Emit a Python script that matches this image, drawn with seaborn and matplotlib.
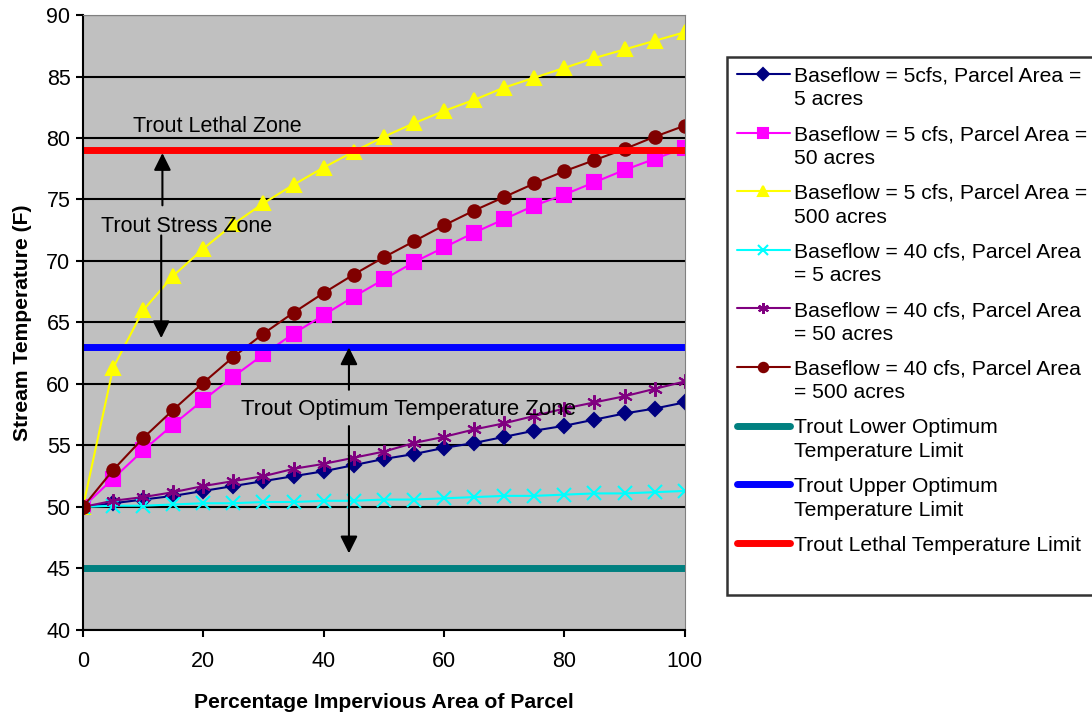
import numpy as np
import pandas as pd
import seaborn as sns
import matplotlib.pyplot as plt
from matplotlib.lines import Line2D

sns.set_style("white")
plt.rcParams['font.family'] = ['Liberation Sans', 'DejaVu Sans']
plt.rcParams.update({"text.color": "black", "axes.labelcolor": "black",
                     "xtick.color": "black", "ytick.color": "black"})

# percentage impervious area
pct = [0, 5, 10, 15, 20, 25, 30, 35, 40, 45, 50, 55, 60, 65, 70, 75, 80, 85, 90, 95, 100]

bf5_a5 = [50, 50.3, 50.6, 50.9, 51.3, 51.7, 52.1, 52.5, 52.9, 53.4, 53.9, 54.3, 54.8, 55.2, 55.7,
          56.2, 56.6, 57.1, 57.6, 58.0, 58.5]
bf5_a50 = [50, 52.3, 54.6, 56.7, 58.7, 60.6, 62.4, 64.1, 65.6, 67.1, 68.5, 69.9, 71.1, 72.3, 73.4,
           74.5, 75.4, 76.4, 77.4, 78.3, 79.2]
bf5_a500 = [50, 61.3, 66.0, 68.8, 71.0, 73.0, 74.7, 76.2, 77.6, 78.9, 80.1, 81.2, 82.2, 83.1, 84.1,
            84.9, 85.7, 86.5, 87.2, 87.9, 88.6]
bf40_a5 = [50, 50.1, 50.1, 50.2, 50.3, 50.3, 50.4, 50.4, 50.5, 50.5, 50.6, 50.6, 50.7, 50.8, 50.9,
           50.9, 51.0, 51.1, 51.1, 51.2, 51.3]
bf40_a50 = [50, 50.5, 50.8, 51.2, 51.7, 52.1, 52.5, 53.1, 53.5, 54.0, 54.5, 55.2, 55.7, 56.3, 56.8,
            57.4, 58.0, 58.5, 59.0, 59.6, 60.2]
bf40_a500 = [50, 53.0, 55.6, 57.9, 60.1, 62.2, 64.1, 65.8, 67.4, 68.9, 70.3, 71.6, 72.9, 74.1, 75.2,
             76.3, 77.3, 78.2, 79.1, 80.1, 81.0]

series_labels = ["Baseflow = 5cfs, Parcel Area =\n5 acres",
                 "Baseflow = 5 cfs, Parcel Area =\n50 acres",
                 "Baseflow = 5 cfs, Parcel Area =\n500 acres",
                 "Baseflow = 40 cfs, Parcel Area\n= 5 acres",
                 "Baseflow = 40 cfs, Parcel Area\n= 50 acres",
                 "Baseflow = 40 cfs, Parcel Area\n= 500 acres"]
series_colors = ["#000080", "#FF00FF", "#FFFF00", "#00FFFF", "#800080", "#800000"]
series_markers = ["D", "s", "^", "x", (6, 2, 0), "o"]
marker_sizes = [7.5, 9.5, 9.5, 9.5, 10.5, 9]

limit_labels = ["Trout Lower Optimum\nTemperature Limit",
                "Trout Upper Optimum\nTemperature Limit",
                "Trout Lethal Temperature Limit"]
limit_values = [45, 63, 79]
limit_colors = ["#008080", "#0000FF", "#FF0000"]

fig = plt.figure(figsize=(10.92, 7.15), dpi=100)
ax = fig.add_axes([0.076, 0.119, 0.551, 0.860])
ax.set_facecolor("#C0C0C0")

series = [bf5_a5, bf5_a50, bf5_a500, bf40_a5, bf40_a50, bf40_a500]
for vals, lab, col, mk, ms in zip(series, series_labels, series_colors, series_markers, marker_sizes):
    sns.lineplot(x=pct, y=vals, ax=ax, color=col, marker=mk, markersize=ms,
                 markeredgecolor=col, markeredgewidth=1.5, linewidth=1.5, label=lab)

for v, lab, col in zip(limit_values, limit_labels, limit_colors):
    sns.lineplot(x=[pct[0], pct[-1]], y=[v, v], ax=ax, color=col, linewidth=5,
                 solid_capstyle="round", label=lab)

ax.set_xlim(0, 100)
ax.set_ylim(40, 90)
ax.set_xticks(range(0, 101, 20))
ax.set_yticks(range(40, 91, 5))
ax.yaxis.grid(True, color="black", linewidth=1.5)
ax.set_axisbelow(True)
for s in ["top", "right"]:
    ax.spines[s].set_color("#808080")
for s in ["left", "bottom"]:
    ax.spines[s].set_color("black")
    ax.spines[s].set_linewidth(1.5)
ax.tick_params(axis="both", labelsize=15.5, length=5, width=1.5, direction="out",
               bottom=True, left=True)
ax.tick_params(axis="x", pad=10)
ax.tick_params(axis="y", pad=4)
ax.set_xlabel("Percentage Impervious Area of Parcel", fontsize=15.2, fontweight="bold", labelpad=15)
ax.set_ylabel("Stream Temperature (F)", fontsize=15.2, fontweight="bold", labelpad=10)

# zone annotations
ax.text(8.3, 80.9, "Trout Lethal Zone", fontsize=15.5, va="center")
ax.text(3, 72.8, "Trout Stress Zone", fontsize=15.5, va="center")
ax.text(26.2, 57.9, "Trout Optimum Temperature Zone", fontsize=16, va="center")
arrow = dict(arrowstyle="-|>", color="black", lw=1.5, mutation_scale=26)
ax.annotate("", xy=(13.2, 79.0), xytext=(13.2, 74.3), arrowprops=arrow)
ax.annotate("", xy=(13.0, 63.5), xytext=(13.0, 72.3), arrowprops=arrow)
ax.annotate("", xy=(44.2, 63.2), xytext=(44.2, 59.3), arrowprops=arrow)
ax.annotate("", xy=(44.2, 46.0), xytext=(44.2, 56.8), arrowprops=arrow)

handles, labels = ax.get_legend_handles_labels()
handles.append(Line2D([], [], color="none"))
labels.append(" ")
leg = ax.legend(handles, labels, loc="upper left", bbox_to_anchor=(727 / 1092, 1 - 57 / 715),
                bbox_transform=fig.transFigure, fontsize=15.2, frameon=True, fancybox=False,
                handlelength=2.55, handletextpad=0.15, labelspacing=0.75, borderpad=0.45,
                borderaxespad=0, markerscale=0.75)
leg.get_frame().set_edgecolor("black")
leg.get_frame().set_linewidth(1.8)
for t in leg.get_texts():
    t.set_linespacing(1.32)
leg.get_texts()[-1].set_fontsize(6)
# handles sit next to the first line of each label
for col in leg._legend_handle_box.get_children():
    for item in col.get_children():
        item.align = "top"

plt.savefig("out.png", dpi=100)
